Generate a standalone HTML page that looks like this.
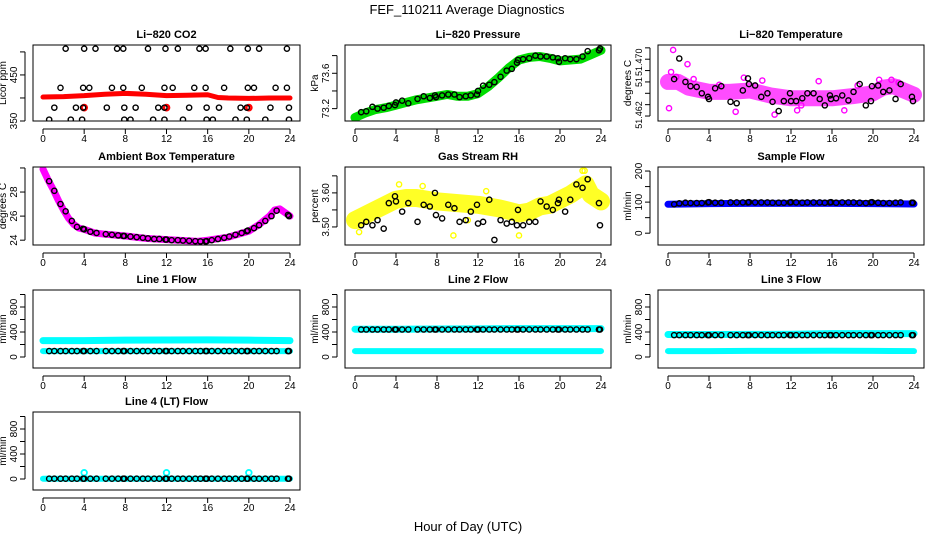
<!DOCTYPE html>
<html><head><meta charset="utf-8"><style>
html,body{margin:0;padding:0;background:#fff;}
svg{display:block;font-family:"Liberation Sans",sans-serif;}
</style></head><body>
<svg id="chart" width="936" height="540" viewBox="0 0 936 540">
<text x="467" y="14" text-anchor="middle" font-size="13">FEF_110211  Average Diagnostics</text>
<text x="468" y="531" text-anchor="middle" font-size="13">Hour of Day (UTC)</text>
</svg>
<script>
// ---- shared data ----
const hourTicks = [0,4,8,12,16,20,24];
const blackTimes = [0.6,1.1,1.7,2.2,2.8,3.3,3.9,4.0,4.6,5.2,6.1,6.7,7.3,7.8,7.9,8.5,9.1,9.7,10.2,10.8,11.3,11.9,12.0,12.5,13.1,13.6,14.2,14.8,15.3,15.8,15.9,16.4,17.0,17.6,18.1,18.7,19.3,19.8,19.9,20.5,21.0,21.6,22.2,22.7,23.8,23.9];

// CO2
const co2HighT = [2.2,4.0,5.1,7.2,7.8,10.2,11.9,13.1,15.2,15.8,18.2,19.9,21.0,23.7];
const co2MidT = [1.7,3.9,4.5,6.7,7.8,9.6,11.8,12.6,14.7,15.8,17.6,19.9,20.5,22.6,23.7];
const co2LowT = [1.1,3.2,3.9,6.2,7.9,9.0,11.2,11.8,14.2,15.9,17.1,19.2,19.8,22.1,23.9];
const co2MinT = [0.6,2.7,3.8,7.9,8.5,10.7,11.8,13.6,15.9,16.5,18.7,19.8,21.6,23.9];
const co2Levels = [507,422,379,353];
const co2BandT = [0,2,4,6,8,10,12,14,16,17,18,20,22,24];
const co2BandV = [402,403,405,408,410,408,405,406,407,401,400,399,400,400];
const co2RedT = [4.0,12.0,20.0];
const co2RedV = [379,379,379];

// Pressure
const presBandT = [0,1,2,3,4,5,6,7,8,9,10,11,12,13,14,15,16,17,18,19,20,21,22,23,24];
const presBandV = [73.10,73.15,73.19,73.21,73.24,73.27,73.30,73.32,73.34,73.36,73.34,73.34,73.37,73.45,73.55,73.66,73.75,73.78,73.79,73.77,73.74,73.75,73.76,73.81,73.86];
const presBlackV = [73.16,73.17,73.22,73.20,73.21,73.23,73.24,73.27,73.29,73.26,73.31,73.34,73.32,73.35,73.33,73.35,73.36,73.36,73.33,73.34,73.35,73.36,73.40,73.46,73.47,73.50,73.56,73.63,73.65,73.72,73.75,73.76,73.77,73.80,73.79,73.79,73.78,73.77,73.73,73.77,73.76,73.76,73.79,73.85,73.86,73.88];

// Li-820 temperature
const tempBandT = [0,1,2,3,4,6,8,10,12,14,16,18,20,21,22,23,24];
const tempBandV = [51.4668,51.4668,51.4660,51.4657,51.4654,51.4654,51.4656,51.4649,51.4645,51.4645,51.4645,51.4648,51.4652,51.4660,51.4662,51.4656,51.4650];
const tempBlackV = [51.4672,51.4701,51.4668,51.4662,51.4661,51.4652,51.4647,51.4644,51.4659,51.4662,51.4640,51.4638,51.4656,51.4673,51.4665,51.4663,51.4647,51.4652,51.4640,51.4627,51.4641,51.4652,51.4641,51.4641,51.4645,51.4652,51.4652,51.4644,51.4635,51.4649,51.4644,51.4645,51.4649,51.4642,51.4654,51.4665,51.4635,51.4641,51.4662,51.4663,51.4654,51.4656,51.4644,51.4665,51.4647,51.4641];
const tempOutT = [0.5,0.1,1.9,10.4,7.4,14.7,20.6,0.3,6.6,12.6,17.2,0.8,2.5,5.0,9.2,13.0,18.5,21.8,22.5];
const tempOutV = [51.4713,51.4631,51.4693,51.4622,51.4674,51.4669,51.4671,51.4682,51.4626,51.4628,51.4628,51.4675,51.4672,51.4664,51.4670,51.4635,51.4663,51.4671,51.4667];

// Ambient box temperature
const ambT = [0,0.5,1,1.5,2,2.5,3,3.5,4,5,6,8,10,12,14,15,16,18,20,21,22,22.5,23,23.5,24];
const ambV = [29.9,29.0,28.2,27.3,26.5,25.8,25.3,25.0,24.9,24.6,24.5,24.35,24.15,24.05,23.95,23.9,24.0,24.25,24.75,25.3,26.0,26.5,26.6,26.3,26.0];
const ambBlackV = [28.9,28.1,27.0,26.4,25.6,25.1,24.95,24.9,24.7,24.6,24.5,24.45,24.4,24.35,24.35,24.3,24.25,24.2,24.15,24.1,24.1,24.05,24.05,24.0,24.0,23.97,23.95,23.92,23.9,23.9,23.92,24.0,24.1,24.2,24.3,24.45,24.6,24.75,24.8,25.0,25.25,25.6,26.0,26.45,26.1,26.0];

// Gas stream RH
const rhBandT = [0,1,2,3,4,5,6,8,10,12,14,16,17,18,19,20,21,22,22.5,23,24];
const rhBandV = [3.52,3.535,3.55,3.565,3.58,3.585,3.585,3.575,3.57,3.565,3.555,3.54,3.545,3.56,3.565,3.58,3.595,3.615,3.625,3.595,3.575];
const rhBlackV = [3.505,3.515,3.505,3.520,3.495,3.570,3.590,3.575,3.545,3.570,3.515,3.565,3.560,3.600,3.535,3.525,3.565,3.555,3.515,3.520,3.545,3.565,3.510,3.515,3.580,3.462,3.520,3.510,3.515,3.505,3.550,3.505,3.515,3.515,3.575,3.560,3.550,3.570,3.580,3.545,3.580,3.625,3.615,3.640,3.570,3.505];
const rhOutT = [0.4,6.6,9.6,11.0,16.0,22.2,22.4,4.3,12.8];
const rhOutV = [3.485,3.620,3.475,3.520,3.475,3.665,3.665,3.625,3.605];

// Sample flow
const sfBandT = [0,4,8,12,16,20,24];
const sfBandV = [93,95,96,96,96,95,94];
const sfBlackV = [93,96,98,97,97,97,99,100,98,98,99,99,99,99,100,99,99,99,98,98,98,99,100,99,98,99,99,99,98,99,100,98,99,99,99,98,97,99,100,98,97,97,98,99,98,98];

// Line flows
const l1Upper = [262,262,270,272,274,270,262];
const l1Lower = [95,95,95,95,95,95,95];
const l1Black = 95;
const l2Upper = [445,445,448,450,455,455,455];
const l2Lower = [95,95,95,95,95,95,95];
const l2Black = 440;
const l3Upper = [360,360,362,365,375,375,375];
const l3Lower = [95,95,98,98,100,98,95];
const l3Black = 350;
const l4Band = [5,5,5,5,5,5,5];
const l4Black = 5;
const l4OutT = [4.0,12.0,20.0];
const l4OutV = [100,100,100];
const flowBandT = [0,4,8,12,16,20,24];

// ---- drawing ----
const NS = "http://www.w3.org/2000/svg";
const svg = document.getElementById('chart');
function mk(tag, attrs, parent){ const e=document.createElementNS(NS,tag); for(const k in attrs) e.setAttribute(k,attrs[k]); (parent||svg).appendChild(e); return e; }

function panel(cfg){
  const g = mk('g',{});
  
  
  const {x0,y0,x1,y1} = cfg;
  const xs = t => x0+10 + t*(x1-x0-20)/24;
  const ys = v => y1 - (v-cfg.ymin)/(cfg.ymax-cfg.ymin)*(y1-y0);
  const t = mk('text',{x:(x0+x1)/2,y:y0-7,'text-anchor':'middle','font-size':11,'font-weight':'bold'},g);
  t.textContent = cfg.title;
  
  
  const xa = mk('g',{},g);
  
  
  mk('line',{x1:xs(0),x2:xs(24),y1:y1+8,y2:y1+8,stroke:'#000','stroke-width':1},xa);
  hourTicks.forEach(h=>{
    mk('line',{x1:xs(h),x2:xs(h),y1:y1+8,y2:y1+13,stroke:'#000','stroke-width':1},xa);
    const tl = mk('text',{x:xs(h),y:y1+21,'text-anchor':'middle','font-size':10},xa);
    tl.textContent = h;
    
    
  });
  const ya = mk('g',{},g);
  
  
  const yt = cfg.yticks;
  mk('line',{x1:x0-8,x2:x0-8,y1:ys(yt[0]),y2:ys(yt[yt.length-1]),stroke:'#000','stroke-width':1},ya);
  const fs = cfg.tickFont || 10;
  yt.forEach((v,i)=>{
    mk('line',{x1:x0-13,x2:x0-8,y1:ys(v),y2:ys(v),stroke:'#000','stroke-width':1},ya);
    const lab = cfg.ylabels[i];
    if(lab!==''){
      const yy = ys(v) + (cfg.labShift? cfg.labShift[i]:0);
      const tl = mk('text',{x:x0-16,y:yy,'text-anchor':'middle','font-size':fs,transform:`rotate(-90 ${x0-16} ${yy})`},ya);
      tl.textContent = lab;
      
      
    }
  });
  const yl = mk('text',{x:x0-27,y:(y0+y1)/2,'text-anchor':'middle','font-size':10,transform:`rotate(-90 ${x0-27} ${(y0+y1)/2})`},g);
  yl.textContent = cfg.ylab;
  
  
  const cid = 'c'+cfg.name;
  const cp = mk('clipPath',{id:cid},g); mk('rect',{x:x0,y:y0,width:x1-x0,height:y1-y0},cp);
  const pg = mk('g',{'clip-path':`url(#${cid})`},g);
  
  
  cfg.draw({xs,ys,g:pg});
  const box = mk('rect',{x:x0,y:y0,width:x1-x0,height:y1-y0,fill:'none',stroke:'#000','stroke-width':1},g);
  
  
}
function band(ctx, T, V, color, w, name, op){
  const pts = T.map((t,i)=>ctx.xs(t)+','+ctx.ys(V[i])).join(' ');
  const p = mk('polyline',{points:pts,fill:'none',stroke:color,'stroke-width':w,'stroke-linejoin':'round','stroke-linecap':'round','stroke-opacity':op||1},ctx.g);
  
  
}
function pts(ctx, T, V, color, name, r, sw){
  T.forEach((t,i)=>{
    const c = mk('circle',{cx:ctx.xs(t),cy:ctx.ys(V[i]),r:r||2.6,fill:'none',stroke:color,'stroke-width':sw||1.4},ctx.g);
    
    
  });
}
const C1=[33,300], C2=[345,611], C3=[658,924];
const R1=[45,121], R2=[167,245], R3=[290,368], R4=[412,490];
const flowTicks=[0,200,400,600,800,1000], flowLabels=['0','','400','','800',''];

panel({name:'co2-panel',x0:C1[0],x1:C1[1],y0:R1[0],y1:R1[1],ymin:350,ymax:515,title:'Li\u2212820 CO2',ylab:'Licor ppm',
  yticks:[350,400,450,500],ylabels:['350','','450',''],
  draw:ctx=>{
    band(ctx,co2BandT,co2BandV,'#ff0000',5,'co2-band');
    pts(ctx,co2RedT,co2RedV,'#ff0000','co2-red-point',2.6,2.5);
    [co2HighT,co2MidT,co2LowT,co2MinT].forEach((T,k)=>pts(ctx,T,T.map(()=>co2Levels[k]),'#000','co2-point'));
  }});
panel({name:'pressure-panel',x0:C2[0],x1:C2[1],y0:R1[0],y1:R1[1],ymin:73.06,ymax:73.92,title:'Li\u2212820 Pressure',ylab:'kPa',
  yticks:[73.2,73.4,73.6,73.8],ylabels:['73.2','','73.6',''],
  draw:ctx=>{ band(ctx,presBandT,presBandV,'#00dd00',9,'pressure-band'); pts(ctx,blackTimes,presBlackV,'#000','pressure-point'); }});
panel({name:'li820-temperature-panel',x0:C3[0],x1:C3[1],y0:R1[0],y1:R1[1],ymin:51.4613,ymax:51.4720,title:'Li\u2212820 Temperature',ylab:'degrees C',
  yticks:[51.462,51.4636,51.4652,51.4668,51.4684,51.470,51.4716],ylabels:['51.462','','','51','','51.470',''],labShift:[-1,0,0,0,0,3,0],tickFont:9,
  draw:ctx=>{ band(ctx,tempBandT,tempBandV,'#ff00ff',16,'temperature-band',0.7); pts(ctx,tempOutT,tempOutV,'#ff00ff','temperature-outlier'); pts(ctx,blackTimes,tempBlackV,'#000','temperature-point'); }});
panel({name:'ambient-temperature-panel',x0:C1[0],x1:C1[1],y0:R2[0],y1:R2[1],ymin:23.6,ymax:30.08,title:'Ambient Box Temperature',ylab:'degrees C',
  yticks:[24,26,28,30],ylabels:['24','26','28',''],
  draw:ctx=>{ band(ctx,ambT,ambV,'#ff00ff',7,'ambient-band'); pts(ctx,blackTimes,ambBlackV,'#000','ambient-point'); }});
panel({name:'rh-panel',x0:C2[0],x1:C2[1],y0:R2[0],y1:R2[1],ymin:3.447,ymax:3.676,title:'Gas Stream RH',ylab:'percent',
  yticks:[3.50,3.55,3.60,3.65],ylabels:['3.50','','3.60',''],
  draw:ctx=>{ band(ctx,rhBandT,rhBandV,'#ffff00',18,'rh-band',0.85); pts(ctx,rhOutT,rhOutV,'#ffff00','rh-outlier'); pts(ctx,blackTimes,rhBlackV,'#000','rh-point'); }});
panel({name:'sample-flow-panel',x0:C3[0],x1:C3[1],y0:R2[0],y1:R2[1],ymin:-38,ymax:213,title:'Sample Flow',ylab:'ml/min',
  yticks:[0,50,100,150,200],ylabels:['0','','100','','200'],
  draw:ctx=>{ band(ctx,sfBandT,sfBandV,'#0000ff',7,'sample-flow-band'); pts(ctx,blackTimes,sfBlackV,'#000','sample-flow-point'); }});
const fr={ymin:-176,ymax:1072,yticks:flowTicks,ylabels:flowLabels,ylab:'ml/min'};
panel(Object.assign({name:'line1-flow-panel',x0:C1[0],x1:C1[1],y0:R3[0],y1:R3[1],title:'Line 1 Flow'},fr,{
  draw:ctx=>{ band(ctx,flowBandT,l1Upper,'#00ffff',7,'line1-upper-band'); band(ctx,flowBandT,l1Lower,'#00ffff',6,'line1-lower-band'); pts(ctx,blackTimes,blackTimes.map(()=>l1Black),'#000','line1-point'); }}));
panel(Object.assign({name:'line2-flow-panel',x0:C2[0],x1:C2[1],y0:R3[0],y1:R3[1],title:'Line 2 Flow'},fr,{
  draw:ctx=>{ band(ctx,flowBandT,l2Upper,'#00ffff',7,'line2-upper-band'); band(ctx,flowBandT,l2Lower,'#00ffff',6,'line2-lower-band'); pts(ctx,blackTimes,blackTimes.map(()=>l2Black),'#000','line2-point'); }}));
panel(Object.assign({name:'line3-flow-panel',x0:C3[0],x1:C3[1],y0:R3[0],y1:R3[1],title:'Line 3 Flow'},fr,{
  draw:ctx=>{ band(ctx,flowBandT,l3Upper,'#00ffff',7,'line3-upper-band'); band(ctx,flowBandT,l3Lower,'#00ffff',6,'line3-lower-band'); pts(ctx,blackTimes,blackTimes.map(()=>l3Black),'#000','line3-point'); }}));
panel(Object.assign({name:'line4-flow-panel',x0:C1[0],x1:C1[1],y0:R4[0],y1:R4[1],title:'Line 4 (LT) Flow'},fr,{
  draw:ctx=>{ band(ctx,flowBandT,l4Band,'#00ffff',6,'line4-band'); pts(ctx,l4OutT,l4OutV,'#00ffff','line4-outlier',2.8,1.8); pts(ctx,blackTimes,blackTimes.map(()=>l4Black),'#000','line4-point'); }}));
</script>
</body></html>
